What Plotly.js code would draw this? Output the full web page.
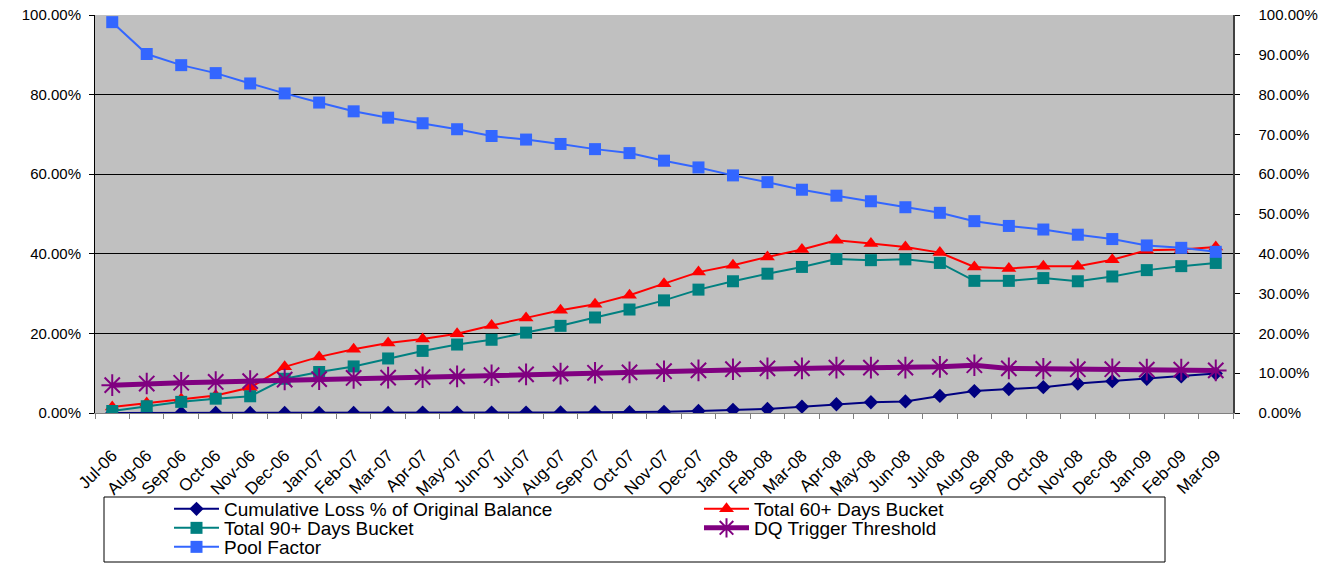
<!DOCTYPE html>
<html>
<head>
<meta charset="utf-8">
<script src="https://cdn.plot.ly/plotly-3.0.1.min.js"></script>
<style>
html,body{margin:0;padding:0;background:#fff;}
#chart{width:1339px;height:563px;}
</style>
</head>
<body>
<div id="chart"></div>
<script>
const months = ['Jul-06','Aug-06','Sep-06','Oct-06','Nov-06','Dec-06','Jan-07','Feb-07','Mar-07','Apr-07','May-07','Jun-07','Jul-07','Aug-07','Sep-07','Oct-07','Nov-07','Dec-07','Jan-08','Feb-08','Mar-08','Apr-08','May-08','Jun-08','Jul-08','Aug-08','Sep-08','Oct-08','Nov-08','Dec-08','Jan-09','Feb-09','Mar-09'];
const cumulativeLoss = [0,0,0,0,0,0,0,0,0,0.1,0.1,0.1,0.1,0.15,0.2,0.2,0.3,0.5,0.8,1.0,1.6,2.2,2.7,2.9,4.3,5.5,6.0,6.5,7.4,8.0,8.6,9.2,9.9];
const total60 = [1.5,2.5,3.5,4.4,6.4,11.6,14.1,16.0,17.6,18.6,19.9,22.0,23.9,25.8,27.3,29.6,32.5,35.4,37.1,39.2,41.1,43.4,42.6,41.7,40.3,36.7,36.3,36.9,36.9,38.5,40.9,41.1,41.7];
const total90 = [0.5,1.7,2.8,3.6,4.2,8.6,10.3,11.7,13.7,15.6,17.2,18.4,20.2,21.9,24.0,26.0,28.3,31.0,33.1,35.0,36.7,38.7,38.4,38.6,37.7,33.2,33.2,33.9,33.1,34.3,35.9,36.9,37.7];
const dqTrigger = [7.0,7.4,7.6,7.8,8.0,8.4,8.5,8.8,8.9,9.0,9.2,9.5,9.7,9.9,10.1,10.2,10.5,10.7,11.0,11.2,11.2,11.4,11.4,11.4,11.6,12.0,11.2,11.1,11.0,11.0,10.9,10.9,10.7];
const poolFactor = [98.2,90.2,87.4,85.4,82.8,80.3,78.0,75.8,74.2,72.8,71.3,69.6,68.7,67.6,66.3,65.3,63.4,61.7,59.7,58.0,56.1,54.6,53.2,51.7,50.3,48.2,47.0,46.1,44.8,43.7,42.1,41.5,40.5];

const FONT = 'Liberation Sans, Arial, sans-serif';

const traces = [
  {name:'Cumulative Loss % of Original Balance', x:months, y:cumulativeLoss, type:'scatter', mode:'lines+markers',
   line:{color:'#000080', width:2}, marker:{symbol:'diamond', size:11, color:'#000080'}, legend:'legend'},
  {name:'Total 60+ Days Bucket', x:months, y:total60, type:'scatter', mode:'lines+markers',
   line:{color:'#FF0000', width:2}, marker:{symbol:'triangle-up', size:13, color:'#FF0000'}, legend:'legend'},
  {name:'Total 90+ Days Bucket', x:months, y:total90, type:'scatter', mode:'lines+markers',
   line:{color:'#008080', width:2}, marker:{symbol:'square', size:12, color:'#008080'}, legend:'legend2'},
  {name:'DQ Trigger Threshold', x:months, y:dqTrigger, type:'scatter', mode:'lines+markers',
   line:{color:'#800080', width:5}, marker:{symbol:'asterisk-open', size:18, color:'#800080', line:{color:'#800080', width:2}}, legend:'legend2'},
  {name:'Pool Factor', x:months, y:poolFactor, type:'scatter', mode:'lines+markers', yaxis:'y2',
   line:{color:'#3366FF', width:2}, marker:{symbol:'square', size:12, color:'#3366FF'}, legend:'legend3'}
];

const L = 95, T = 15, W = 1138, H = 398;
const px2x = p => (p - L) / W;
const px2y = p => (T + H - p) / H;

function legendCfg(rowPx){
  return {orientation:'h', x:px2x(169), xanchor:'left', y:px2y(rowPx), yanchor:'middle',
    bgcolor:'rgba(0,0,0,0)', borderwidth:0, font:{family:FONT, size:19, color:'#000'},
    entrywidth:470, entrywidthmode:'pixels', itemwidth:45, tracegroupgap:0, itemclick:false};
}

const layout = {
  width:1339, height:563,
  margin:{l:L, r:106, t:T, b:150, pad:0, autoexpand:false},
  paper_bgcolor:'#ffffff', plot_bgcolor:'#C0C0C0',
  font:{family:FONT, size:15, color:'#000'},
  showlegend:true,
  legend: legendCfg(509),
  legend2: legendCfg(528),
  legend3: legendCfg(547),
  xaxis:{type:'category', range:[-0.5, months.length-0.5], tickangle:-45, tickson:'boundaries',
    ticks:'outside', ticklen:5, tickcolor:'#808080', showline:true, linecolor:'#808080', linewidth:1,
    showgrid:false, zeroline:false, tickfont:{family:FONT, size:17, color:'#000'}, ticklabelstandoff:25,
    automargin:false, fixedrange:true},
  yaxis:{range:[0,100], dtick:20, tick0:0, tickformat:'.2f', ticksuffix:'%', ticks:'outside', ticklen:5,
    tickcolor:'#000', showline:true, linecolor:'#000', linewidth:1, showgrid:true, gridcolor:'#000', gridwidth:1,
    zeroline:false, tickfont:{family:FONT, size:15, color:'#000'}, ticklabelstandoff:5, automargin:false, fixedrange:true},
  yaxis2:{range:[0,100], dtick:10, tick0:0, tickformat:'.2f', ticksuffix:'%', overlaying:'y', side:'right',
    ticks:'outside', ticklen:5, tickcolor:'#000', showline:true, linecolor:'#404040', linewidth:1.5,
    showgrid:false, zeroline:false, tickfont:{family:FONT, size:15, color:'#000'}, ticklabelstandoff:16, automargin:false, fixedrange:true},
  shapes:[
    {type:'rect', xref:'paper', yref:'paper', x0:px2x(104), x1:px2x(1165), y0:px2y(497), y1:px2y(562),
     line:{color:'#000', width:1}, fillcolor:'rgba(0,0,0,0)', layer:'above'}
  ]
};

Plotly.newPlot('chart', traces, layout, {displayModeBar:false, staticPlot:true});
</script>
</body>
</html>
